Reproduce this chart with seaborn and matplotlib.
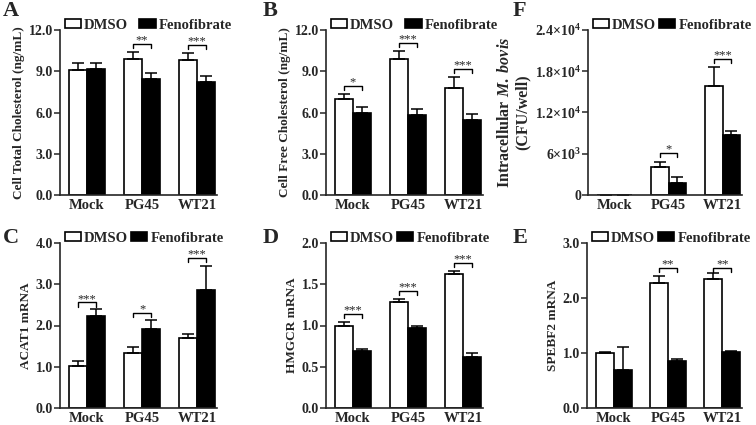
# Fenofibrate panels (A-F)
import numpy as np
import pandas as pd
import matplotlib
matplotlib.use('Agg')
import matplotlib.pyplot as plt
import seaborn as sns
from matplotlib.patches import Patch

sns.set_style("ticks")
plt.rcParams['font.family'] = ['Liberation Serif', 'DejaVu Serif']
plt.rcParams['font.weight'] = 'bold'
plt.rcParams['axes.labelweight'] = 'bold'
plt.rcParams['mathtext.fontset'] = 'custom'
plt.rcParams['mathtext.rm'] = 'Liberation Serif:bold'
plt.rcParams['mathtext.it'] = 'Liberation Serif:italic:bold'
plt.rcParams['mathtext.bf'] = 'Liberation Serif:bold'

# Data
groups = ['Mock', 'PG45', 'WT21']
treatments = ['DMSO', 'Fenofibrate']

# A - total cholesterol
total_dmso = [9.1, 9.9, 9.8]
total_dmso_err = [0.5, 0.5, 0.5]
total_feno = [9.15, 8.45, 8.25]
total_feno_err = [0.45, 0.4, 0.4]
total_sig = ['', '**', '***']
total_sig_y = [0, 10.98, 10.9]

# B - free cholesterol
free_dmso = [6.98, 9.9, 7.8]
free_dmso_err = [0.4, 0.56, 0.8]
free_feno = [6.0, 5.85, 5.48]
free_feno_err = [0.4, 0.38, 0.38]
free_sig = ['*', '***', '***']
free_sig_y = [7.95, 11.06, 9.18]

# F - intracellular M. bovis
cfu_dmso = [0, 4030, 15870]
cfu_dmso_err = [0, 730, 2700]
cfu_feno = [0, 1800, 8790]
cfu_feno_err = [0, 770, 480]
cfu_sig = ['', '*', '***']
cfu_sig_y = [0, 6070, 19800]

# C - ACAT1
acat_dmso = [1.01, 1.33, 1.69]
acat_dmso_err = [0.12, 0.14, 0.1]
acat_feno = [2.23, 1.91, 2.86]
acat_feno_err = [0.16, 0.23, 0.59]
acat_sig = ['***', '*', '***']
acat_sig_y = [2.56, 2.31, 3.63]

# D - HMGCR
hmgcr_dmso = [1.0, 1.28, 1.63]
hmgcr_dmso_err = [0.04, 0.04, 0.03]
hmgcr_feno = [0.69, 0.97, 0.62]
hmgcr_feno_err = [0.03, 0.03, 0.05]
hmgcr_sig = ['***', '***', '***']
hmgcr_sig_y = [1.14, 1.42, 1.76]

# E - SPEBF2
srebf_dmso = [1.0, 2.28, 2.35]
srebf_dmso_err = [0.01, 0.12, 0.11]
srebf_feno = [0.69, 0.85, 1.01]
srebf_feno_err = [0.42, 0.04, 0.03]
srebf_sig = ['', '**', '**']
srebf_sig_y = [0, 2.55, 2.55]

fig = plt.figure(figsize=(7.56, 4.25), dpi=100)
W, H = 756, 425

def px_axes(left, top, right, bottom):
    return fig.add_axes([left / W, 1 - bottom / H, (right - left) / W, (bottom - top) / H])

half = 0.165

def draw_panel(ax, dmso, dmso_err, feno, feno_err, sig, sig_y, ylabel, yticks, yticklabels,
               ylabel_size=9.5, colspace=0.4, hh=0.55):
    df = pd.DataFrame({'group': groups * 2,
                       'treatment': ['DMSO'] * 3 + ['Fenofibrate'] * 3,
                       'value': dmso + feno})
    sns.barplot(data=df, x='group', y='value', hue='treatment', hue_order=treatments,
                palette={'DMSO': 'white', 'Fenofibrate': 'black'}, saturation=1,
                edgecolor='black', linewidth=1.2, width=0.66, errorbar=None,
                legend=False, ax=ax)
    x = np.arange(3)
    ax.errorbar(x - half, dmso, yerr=[np.zeros(3), dmso_err], fmt='none', ecolor='black',
                elinewidth=1.1, capsize=4, capthick=1.1, zorder=1)
    ax.errorbar(x + half, feno, yerr=[np.zeros(3), feno_err], fmt='none', ecolor='black',
                elinewidth=1.1, capsize=4, capthick=1.1, zorder=1)
    ymax = yticks[-1]
    h = 0.025 * ymax
    for i, s in enumerate(sig):
        if not s:
            continue
        y = sig_y[i]
        ax.plot([i - half, i - half, i + half, i + half], [y - h, y, y, y - h],
                color='black', lw=1.0)
        ax.text(i, y - 0.015 * ymax, s, ha='center', va='bottom', fontsize=9,
                fontweight='normal')
    ax.set_xlim(-0.49, 2.36)
    ax.set_ylim(0, ymax)
    ax.set_yticks(yticks)
    ax.set_yticklabels(yticklabels)
    ax.set_xlabel('')
    ax.set_ylabel(ylabel, fontsize=ylabel_size, labelpad=3)
    ax.tick_params(axis='y', length=4, width=1.1, labelsize=10, pad=1)
    ax.tick_params(axis='x', length=0, labelsize=10.5, pad=3)
    for s in ['left', 'bottom']:
        ax.spines[s].set_linewidth(1.2)
    sns.despine(ax=ax)
    handles = [Patch(facecolor='white', edgecolor='black', linewidth=1.2, label='DMSO'),
               Patch(facecolor='black', edgecolor='black', linewidth=1.2, label='Fenofibrate')]
    ax.legend(handles=handles, ncol=2, loc='lower left', bbox_to_anchor=(0.03, 0.99),
              frameon=False, fontsize=10.5, handlelength=1.1, handleheight=hh,
              columnspacing=colspace, handletextpad=0.2, borderaxespad=0, borderpad=0)

top_row = (30, 195)
bot_row = (243, 408)

axA = px_axes(60, top_row[0], 217, top_row[1])
draw_panel(axA, total_dmso, total_dmso_err, total_feno, total_feno_err, total_sig, total_sig_y,
           'Cell Total Cholesterol (ng/mL)', [0, 3, 6, 9, 12], ['0.0', '3.0', '6.0', '9.0', '12.0'],
           colspace=0.8, hh=0.65)

axB = px_axes(326, top_row[0], 483, top_row[1])
draw_panel(axB, free_dmso, free_dmso_err, free_feno, free_feno_err, free_sig, free_sig_y,
           'Cell Free Cholesterol (ng/mL)', [0, 3, 6, 9, 12], ['0.0', '3.0', '6.0', '9.0', '12.0'],
           colspace=0.8, hh=0.65)

axF = px_axes(588, top_row[0], 742, top_row[1])
draw_panel(axF, cfu_dmso, cfu_dmso_err, cfu_feno, cfu_feno_err, cfu_sig, cfu_sig_y,
           'Intracellular $\\mathit{M.\\ bovis}$\n(CFU/well)', [0, 6000, 12000, 18000, 24000],
           ['0', '6×10$^{3}$', '1.2×10$^{4}$', '1.8×10$^{4}$', '2.4×10$^{4}$'],
           ylabel_size=11.5, colspace=0.25)

axC = px_axes(60, bot_row[0], 217, bot_row[1])
draw_panel(axC, acat_dmso, acat_dmso_err, acat_feno, acat_feno_err, acat_sig, acat_sig_y,
           'ACAT1 mRNA', [0, 1, 2, 3, 4], ['0.0', '1.0', '2.0', '3.0', '4.0'], colspace=0.25)

axD = px_axes(326, bot_row[0], 483, bot_row[1])
draw_panel(axD, hmgcr_dmso, hmgcr_dmso_err, hmgcr_feno, hmgcr_feno_err, hmgcr_sig, hmgcr_sig_y,
           'HMGCR mRNA', [0, 0.5, 1.0, 1.5, 2.0], ['0.0', '0.5', '1.0', '1.5', '2.0'], colspace=0.25)

axE = px_axes(587, bot_row[0], 742, bot_row[1])
draw_panel(axE, srebf_dmso, srebf_dmso_err, srebf_feno, srebf_feno_err, srebf_sig, srebf_sig_y,
           'SPEBF2 mRNA', [0, 1, 2, 3], ['0.0', '1.0', '2.0', '3.0'], colspace=0.25)

# panel letters
for letter, x, y in [('A', 3, 16), ('B', 263, 16), ('F', 513, 16),
                     ('C', 3, 243), ('D', 263, 243), ('E', 513, 243)]:
    fig.text(x / W, 1 - y / H, letter, fontsize=16, fontweight='bold', va='baseline')

fig.savefig('out.png', dpi=100)
